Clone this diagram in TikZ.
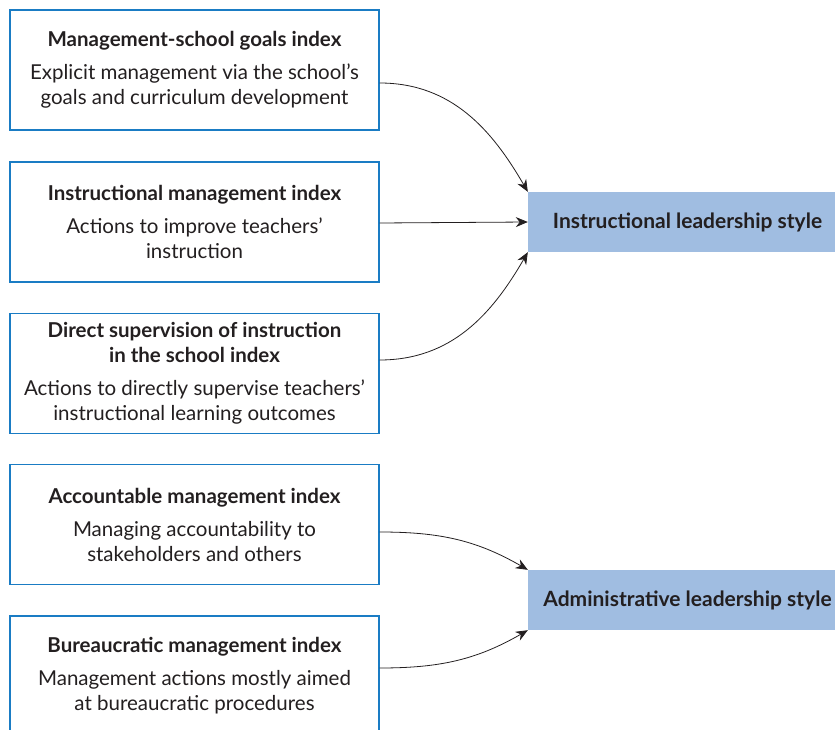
\documentclass[tikz,border=0pt]{standalone}
\usepackage{fontspec}
\setmainfont{Lato}
\usetikzlibrary{arrows.meta}

\definecolor{boxblue}{RGB}{26,124,196}
\definecolor{stylefill}{RGB}{160,189,225}
\definecolor{inkgray}{RGB}{35,31,32}

\tikzset{
  indexbox/.style={draw=boxblue, line width=1.2pt, fill=white,
    minimum width=369pt, minimum height=120pt, inner sep=0pt,
    align=center, text=inkgray, font=\fontsize{20.5}{25}\selectfont},
  stylebox/.style={fill=stylefill, minimum width=319pt, minimum height=60pt,
    inner sep=0pt, text=inkgray, font=\fontsize{21}{24}\selectfont\bfseries},
  link/.style={draw=inkgray, line width=0.8pt, -{Stealth[length=12pt,width=10pt]}}
}

\begin{document}
\begin{tikzpicture}[x=1pt,y=1pt]

    % Page frame
    \useasboundingbox (0,0) rectangle (835,-730);
    \clip (0,0) rectangle (835,-730);

    % Index boxes on the left
    \node[indexbox] (mg) at (194.5,-70)
    {\textbf{Management-school goals index}\\[8pt]
      Explicit management via the school’s\\ goals and curriculum development};
    \node[indexbox] (im) at (194.5,-222)
    {\textbf{Instructional management index}\\[8pt]
      Actions to improve teachers’\\ instruction};
    \node[indexbox] (ds) at (194.5,-373.5)
    {\textbf{Direct supervision of instruction}\\ \textbf{in the school index}\\[8pt]
      Actions to directly supervise teachers’\\ instructional learning outcomes};
    \node[indexbox] (am) at (194.5,-524.5)
    {\textbf{Accountable management index}\\[8pt]
      Managing accountability to\\ stakeholders and others};
    \node[indexbox] (bm) at (194.5,-676)
    {\textbf{Bureaucratic management index}\\[8pt]
      Management actions mostly aimed\\ at bureaucratic procedures};

    % Leadership styles on the right
    \node[stylebox] (il) at (687.5,-222) {Instructional leadership style};
    \node[stylebox] (al) at (687.5,-600) {Administrative leadership style};

    % Links to instructional style
    \draw[link] ([yshift=-13pt]mg.east) to[out=0,in=120] (il.north west);
    \draw[link] ([yshift=-1pt]im.east) -- (il.west);
    \draw[link] ([yshift=13.5pt]ds.east) to[out=0,in=-120] (il.south west);

    % Links to administrative style
    \draw[link] ([yshift=-7.5pt]am.east) to[out=0,in=150] (al.north west);
    \draw[link] ([yshift=8pt]bm.east) to[out=0,in=-150] (al.south west);

\end{tikzpicture}
\end{document}
